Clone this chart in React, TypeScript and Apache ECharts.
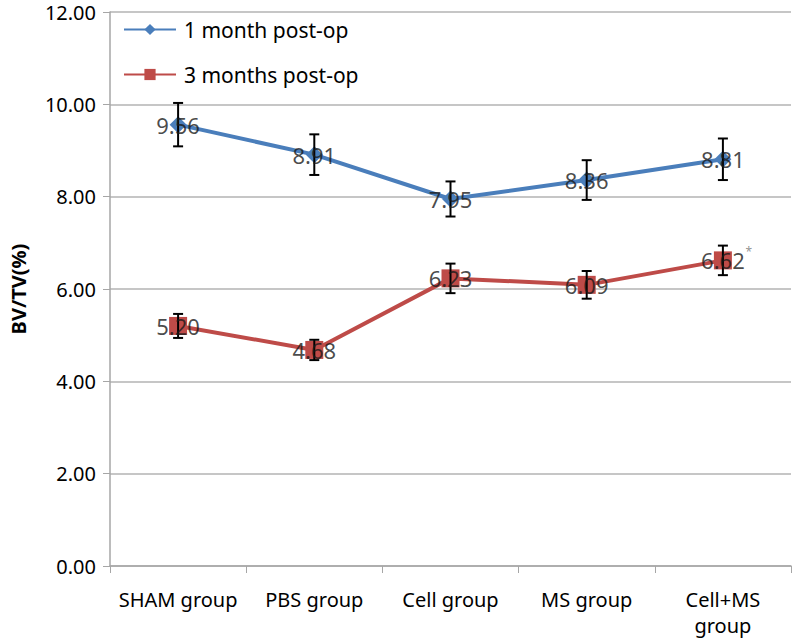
import React, { useEffect, useRef } from "react";
import * as echarts from "echarts";

const categories = ["SHAM group", "PBS group", "Cell group", "MS group", "Cell+MS group"];
const oneMonth = [9.56, 8.91, 7.95, 8.36, 8.81];
const oneMonthErr = [0.47, 0.44, 0.38, 0.43, 0.45];
const threeMonths = [5.2, 4.68, 6.23, 6.09, 6.62];
const threeMonthsErr = [0.26, 0.22, 0.32, 0.3, 0.32];
const yTicks = { min: 0, max: 12, interval: 2 };

const FONT = "'Noto Sans', sans-serif";
const BLUE = "#4a7ebb";
const RED = "#be4b48";

function errorSeries(vals: number[], errs: number[]) {
  return {
    type: "custom",
    z: 5,
    silent: true,
    data: vals.map((v, i) => [i, v - errs[i], v + errs[i]]),
    renderItem: (params: any, api: any) => {
      const x = api.coord([api.value(0), api.value(1)])[0];
      const yLo = api.coord([api.value(0), api.value(1)])[1];
      const yHi = api.coord([api.value(0), api.value(2)])[1];
      const cap = 5;
      const st = { stroke: "#000", lineWidth: 2 };
      return {
        type: "group",
        children: [
          { type: "line", shape: { x1: x, y1: yLo, x2: x, y2: yHi }, style: st },
          { type: "line", shape: { x1: x - cap, y1: yLo, x2: x + cap, y2: yLo }, style: st },
          { type: "line", shape: { x1: x - cap, y1: yHi, x2: x + cap, y2: yHi }, style: st },
        ],
      };
    },
  };
}

function labelSeries(vals: number[]) {
  return {
    type: "scatter",
    z: 8,
    silent: true,
    symbolSize: 0,
    data: vals.map((v, i) => [i, v]),
    label: {
      show: true,
      position: "inside",
      formatter: (p: any) => p.value[1].toFixed(2),
      color: "#1a1a1a",
      fontSize: 22,
      fontFamily: FONT,
    },
  };
}

export default function App() {
  const ref = useRef<HTMLDivElement>(null);
  useEffect(() => {
    const chart = echarts.init(ref.current!, null, { renderer: "svg" });
    chart.setOption({
      animation: false,
      backgroundColor: "#fff",
      grid: { left: 106, right: 2, top: 12, bottom: 75 },
      legend: {
        orient: "vertical",
        left: 118,
        top: 14,
        itemWidth: 52,
        itemHeight: 14,
        itemGap: 24,
        data: ["1 month post-op", "3 months post-op"],
        textStyle: { fontSize: 21, fontFamily: FONT, color: "#000", padding: [0, 0, 0, 3] },
      },
      xAxis: {
        type: "category",
        data: categories,
        boundaryGap: true,
        axisLine: { lineStyle: { color: "#a6a6a6", width: 1.5 } },
        axisTick: { show: true, length: 7, lineStyle: { color: "#a6a6a6" } },
        axisLabel: {
          interval: 0,
          color: "#000",
          fontSize: 20,
          fontFamily: FONT,
          margin: 20,
          lineHeight: 26,
          formatter: (v: string) => (v === "Cell+MS group" ? "Cell+MS\ngroup" : v),
        },
      },
      yAxis: {
        type: "value",
        min: yTicks.min,
        max: yTicks.max,
        interval: yTicks.interval,
        name: "BV/TV(%)",
        nameLocation: "middle",
        nameGap: 82,
        nameTextStyle: { fontSize: 20, fontWeight: "bold", fontFamily: FONT, color: "#000" },
        axisLine: { show: true, lineStyle: { color: "#a6a6a6", width: 1.5 } },
        axisTick: { show: true, length: 7, lineStyle: { color: "#a6a6a6" } },
        axisLabel: {
          color: "#000",
          fontSize: 20,
          fontFamily: FONT,
          margin: 14,
          formatter: (v: number) => v.toFixed(2),
        },
        splitLine: { show: true, lineStyle: { color: "#b3b3b3", width: 1.5 } },
      },
      series: [
        {
          name: "1 month post-op",
          type: "line",
          z: 3,
          data: oneMonth,
          symbol: "diamond",
          symbolSize: 17,
          lineStyle: { color: BLUE, width: 4 },
          itemStyle: { color: BLUE },
        },
        {
          name: "3 months post-op",
          type: "line",
          z: 3,
          data: threeMonths,
          symbol: "rect",
          symbolSize: 18,
          lineStyle: { color: RED, width: 4 },
          itemStyle: { color: RED },
        },
        errorSeries(oneMonth, oneMonthErr),
        errorSeries(threeMonths, threeMonthsErr),
        labelSeries(oneMonth),
        labelSeries(threeMonths),
        {
          type: "scatter",
          z: 8,
          silent: true,
          symbolSize: 0,
          data: [[4, threeMonths[4]]],
          label: {
            show: true,
            position: "inside",
            offset: [26, -9],
            formatter: "*",
            color: "#777",
            fontSize: 12,
            fontFamily: FONT,
          },
        },
      ],
    });
    return () => chart.dispose();
  }, []);
  return (
    <div
      ref={ref}
      style={{ position: "absolute", left: 0, top: 0, width: 793, height: 641 }}
    />
  );
}
